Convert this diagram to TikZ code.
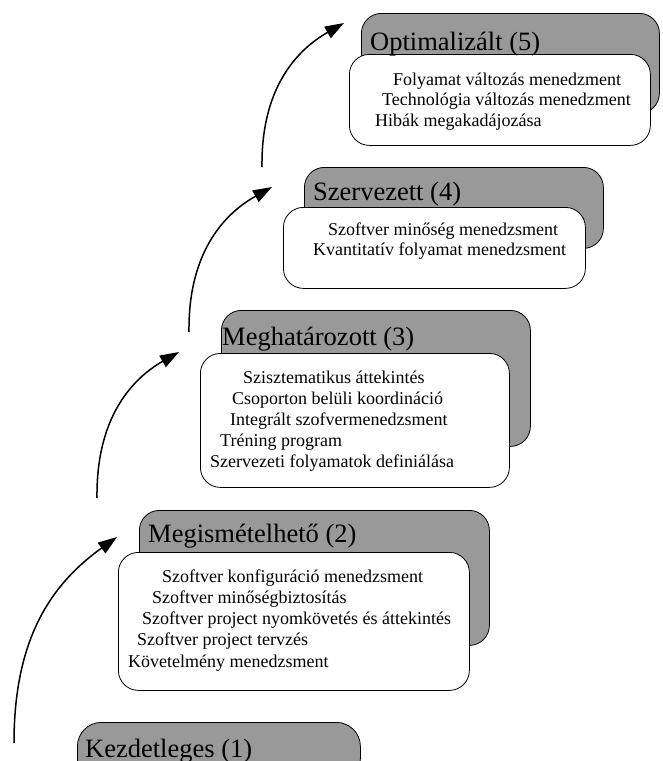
\documentclass[tikz,border=0pt]{standalone}
\usepackage{fontspec}
\setmainfont{Liberation Serif}
\usetikzlibrary{arrows.meta}
\begin{document}
\begin{tikzpicture}[x=1pt,y=-1pt,
  greybox/.style={draw=black, line width=0.8pt, fill=black!40, rounded corners=20pt,
    inner sep=0pt, anchor=north west},
  whitebox/.style={draw=black, line width=0.8pt, fill=white, rounded corners=20pt,
    inner sep=0pt, anchor=north west},
  title/.style={anchor=base west, inner sep=0pt, font=\fontsize{26.5}{30}\selectfont},
  item/.style={anchor=base west, inner sep=0pt, font=\fontsize{18}{20.5}\selectfont},
  stair/.style={line width=1.5pt, -{Triangle[length=19pt,width=13pt]}}
]
\useasboundingbox (0,0) rectangle (662,761);
\clip (0,0) rectangle (662,761);
\fill[white] (0,0) rectangle (662,761);

% level 1
\node[greybox, minimum width=283pt, minimum height=60pt, rounded corners=24pt] (g1) at (77,722) {};
\node[title] (t1) at (85,757) {Kezdetleges (1)};

% level 2
\node[greybox, minimum width=350pt, minimum height=135pt] (g2) at (139,510) {};
\node[whitebox, minimum width=351pt, minimum height=138pt] (w2) at (118,552) {};
\node[title] (t2) at (148,542) {Megismételhető (2)};
\node[item] (i21) at (162,582) {Szoftver konfiguráció menedzsment};
\node[item] (i22) at (152,603) {Szoftver minőségbiztosítás};
\node[item] (i23) at (142,624) {Szoftver project nyomkövetés és áttekintés};
\node[item] (i24) at (137,645) {Szoftver project tervzés};
\node[item] (i25) at (128,667) {Követelmény menedzsment};

% level 3
\node[greybox, minimum width=309pt, minimum height=136pt] (g3) at (221,310) {};
\node[whitebox, minimum width=309pt, minimum height=134pt] (w3) at (200,353) {};
\node[title] (t3) at (222,345) {Meghatározott (3)};
\node[item] (i31) at (243,383) {Szisztematikus áttekintés};
\node[item] (i32) at (232,404) {Csoporton belüli koordináció};
\node[item] (i33) at (230,425) {Integrált szofvermenedzsment};
\node[item] (i34) at (220,446) {Tréning program};
\node[item] (i35) at (210,467) {Szervezeti folyamatok definiálása};

% level 4
\node[greybox, minimum width=299pt, minimum height=81pt] (g4) at (304,167) {};
\node[whitebox, minimum width=302pt, minimum height=81pt] (w4) at (283,207) {};
\node[title] (t4) at (313,200) {Szervezett (4)};
\node[item] (i41) at (328,235) {Szoftver minőség menedzsment};
\node[item] (i42) at (313,255) {Kvantitatív folyamat menedzsment};

% level 5
\node[greybox, minimum width=298pt, minimum height=100pt] (g5) at (361,13) {};
\node[whitebox, minimum width=301pt, minimum height=91pt] (w5) at (349,54) {};
\node[title] (t5) at (370,50) {Optimalizált (5)};
\node[item] (i51) at (393,85) {Folyamat változás menedzment};
\node[item] (i52) at (382,105) {Technológia változás menedzment};
\node[item] (i53) at (375,126) {Hibák megakadájozása};

% curved arrows climbing from level to level
\coordinate (a1s) at (14,743);  \coordinate (a1e) at (117,537);
\coordinate (a2s) at (97,498);  \coordinate (a2e) at (179,352);
\coordinate (a3s) at (189,332); \coordinate (a3e) at (272,187);
\coordinate (a4s) at (262,167); \coordinate (a4e) at (344,23);
\draw[stair] (a1s) .. controls (14,640) and (50,585) .. (a1e);
\draw[stair] (a2s) .. controls (96,420) and (130,380) .. (a2e);
\draw[stair] (a3s) .. controls (188,255) and (222,215) .. (a3e);
\draw[stair] (a4s) .. controls (261,90) and (295,51) .. (a4e);
\end{tikzpicture}
\end{document}
